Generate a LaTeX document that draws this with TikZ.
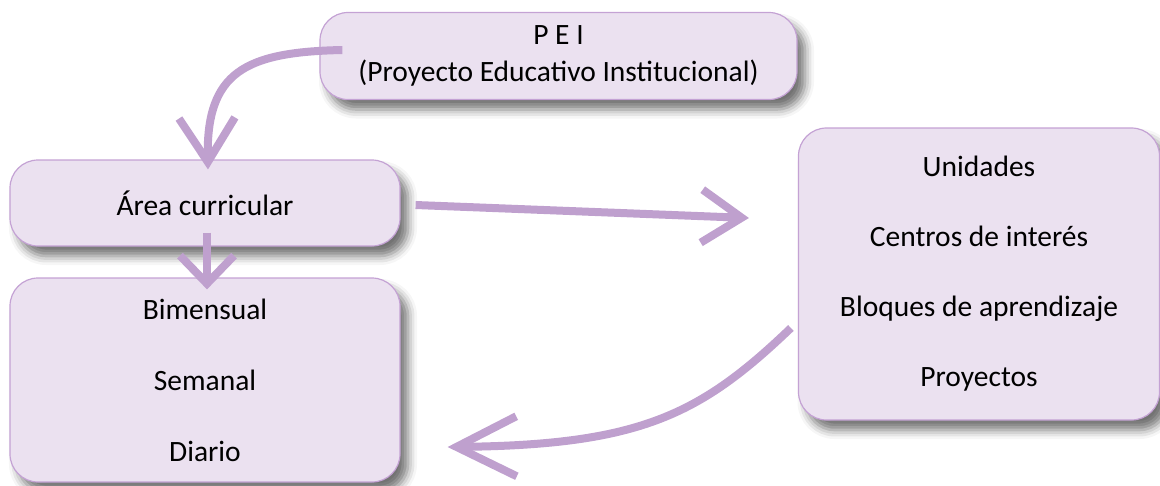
\documentclass[tikz,border=0pt]{standalone}
\usepackage{fontspec}
\setmainfont{Carlito}
\usetikzlibrary{arrows.meta,shadows.blur,calc}
\definecolor{boxfill}{RGB}{235,225,240}
\definecolor{boxline}{RGB}{196,162,212}
\definecolor{arrowc}{RGB}{191,160,206}
\begin{document}
\begin{tikzpicture}[x=1pt,y=-1pt,
  box/.style={draw=boxline, line width=1.2pt, fill=boxfill, rounded corners=28pt,
    inner sep=0pt, align=center, text=black, font=\fontsize{29.5}{35}\selectfont,
    blur shadow={shadow xshift=8pt, shadow yshift=-10pt, shadow blur radius=9pt, shadow opacity=55}},
  conn/.style={draw=arrowc, line width=8pt}]
\useasboundingbox (0,0) rectangle (1160,485);
\node[box, minimum width=477pt, minimum height=87pt, font=\fontsize{29.5}{37}\selectfont] (pei) at (558.5,56)
  {P E I\\(Proyecto Educativo Institucional)};
\node[box, minimum width=390pt, minimum height=86pt] (area) at (205,203) {Área curricular};
\node[box, minimum width=390pt, minimum height=204pt, font=\fontsize{29.5}{71}\selectfont] (left) at (205,380)
  {Bimensual\\Semanal\\Diario};
\node[box, minimum width=361pt, minimum height=292pt, font=\fontsize{29.5}{70}\selectfont] (right) at (979,274)
  {Unidades\\Centros de interés\\Bloques de aprendizaje\\Proyectos};
\draw[conn, -{Straight Barb[length=44pt,width=56pt]}]
  ($(pei.west)+(23,-6)$) .. controls (245,52) and (206,72) .. ($(area.north)+(3,10)$);
\draw[conn, -{Straight Barb[length=28pt,width=54pt]}]
  ($(area.south)+(2,-14)$) -- ($(left.north)+(2,12)$);
\draw[conn, -{Straight Barb[length=40pt,width=53pt]}]
  ($(area.east)+(15,2)$) -- ($(right.west)+(-49,-56)$);
\draw[conn, -{Straight Barb[length=60pt,width=60pt]}]
  ($(right.west)+(-7,54)$) .. controls (700,415) and (640,445) .. ($(left.east)+(47,67)$);
\end{tikzpicture}
\end{document}
